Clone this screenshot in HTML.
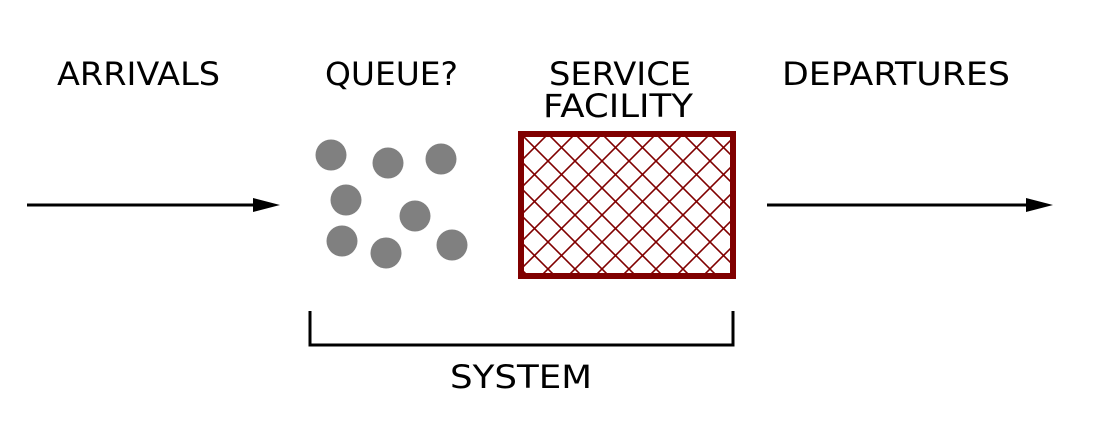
<!DOCTYPE html>
<html><head><meta charset="utf-8"><style>
html,body{margin:0;padding:0;background:#fff;}
svg{display:block;}
text{font-family:"DejaVu Sans","Liberation Sans",sans-serif;font-size:32px;fill:#000;}
</style></head><body>
<svg width="1106" height="432" viewBox="0 0 1106 432" xmlns="http://www.w3.org/2000/svg">
<defs>
<pattern id="h" patternUnits="userSpaceOnUse" width="27" height="27" x="521" y="134">
<path d="M-1,28 L28,-1 M-1,-1 L28,28" stroke="#800000" stroke-width="1.6" fill="none"/>
</pattern>
</defs>
<text x="57" y="85" textLength="163" lengthAdjust="spacingAndGlyphs">ARRIVALS</text>
<text x="325" y="85" textLength="133" lengthAdjust="spacingAndGlyphs">QUEUE?</text>
<text x="549" y="85" textLength="142" lengthAdjust="spacingAndGlyphs">SERVICE</text>
<text x="543" y="117" textLength="150" lengthAdjust="spacingAndGlyphs">FACILITY</text>
<text x="782" y="85" textLength="228" lengthAdjust="spacingAndGlyphs">DEPARTURES</text>
<text x="450" y="388" textLength="142" lengthAdjust="spacingAndGlyphs">SYSTEM</text>
<line x1="27" y1="205" x2="258" y2="205" stroke="#000" stroke-width="3"/>
<polygon points="253,198 280,205 253,212" fill="#000"/>
<line x1="767" y1="205" x2="1030" y2="205" stroke="#000" stroke-width="3"/>
<polygon points="1026,198 1053,205 1026,212" fill="#000"/>
<g fill="#808080">
<circle cx="331" cy="155" r="15.5"/>
<circle cx="388" cy="163" r="15.5"/>
<circle cx="441" cy="159" r="15.5"/>
<circle cx="346" cy="200" r="15.5"/>
<circle cx="415" cy="216" r="15.5"/>
<circle cx="342" cy="241" r="15.5"/>
<circle cx="386" cy="253" r="15.5"/>
<circle cx="452" cy="245" r="15.5"/>
</g>
<rect x="521" y="134" width="212" height="142" fill="url(#h)" stroke="#800000" stroke-width="6"/>
<path d="M310,311 L310,345 L733,345 L733,311" fill="none" stroke="#000" stroke-width="3"/>
</svg>
</body></html>
